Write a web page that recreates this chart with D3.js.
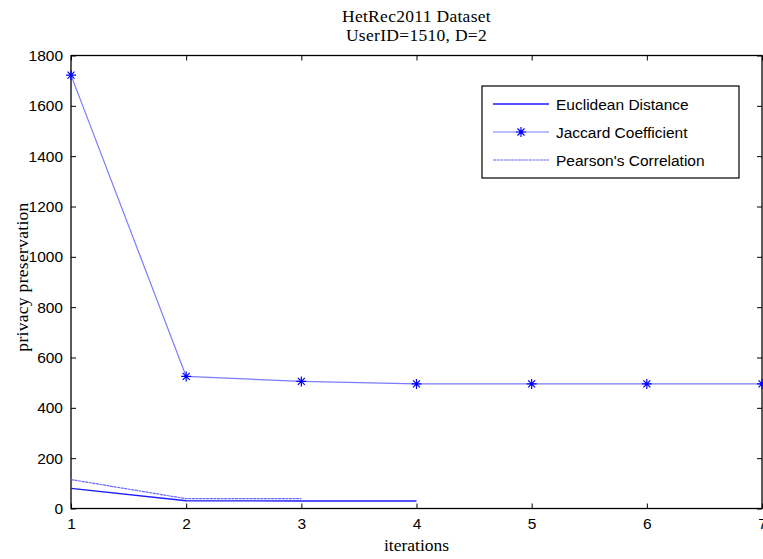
<!DOCTYPE html>
<html>
<head>
<meta charset="utf-8">
<script src="https://cdn.jsdelivr.net/npm/d3@7"></script>
<style>
  body { margin: 0; background: #fff; }
  svg text { fill: #000; }
  .tick text { font-family: "Liberation Sans", Arial, sans-serif; font-size: 15.5px; }
</style>
</head>
<body>
<div id="chart"></div>
<script>
// data
let iterations = [1, 2, 3, 4, 5, 6, 7];
let euclidean = [80, 31, 30, 30];
let jaccard = [1722, 525, 505, 495, 495, 495, 495];
let pearson = [115, 39, 39];
let yTicks = [0, 200, 400, 600, 800, 1000, 1200, 1400, 1600, 1800];
let seriesNames = ["Euclidean Distance", "Jaccard Coefficient", "Pearson's Correlation"];

let width = 763, height = 559;
let margin = { left: 71, right: 1, top: 55.5, bottom: 50.5 };
let serif = "'Liberation Serif', 'Times New Roman', serif";

let svg = d3.select("#chart").append("svg")
  .attr("width", width)
  .attr("height", height);

let x = d3.scaleLinear().domain([1, 7]).range([margin.left, width - margin.right]);
let y = d3.scaleLinear().domain([0, 1800]).range([height - margin.bottom, margin.top]);

// axes, ticks pointing inwards like matlab
let tickLen = 5;
svg.append("g")
  .attr("transform", `translate(0,${y(0)})`)
  .call(d3.axisBottom(x).tickValues(iterations).tickFormat(d3.format("d")).tickSizeInner(-tickLen).tickSizeOuter(0).tickPadding(9))
  .call(g => g.select(".domain").remove());
svg.append("g")
  .attr("transform", `translate(0,${y(1800)})`)
  .call(d3.axisTop(x).tickValues(iterations).tickFormat("").tickSizeInner(-tickLen).tickSizeOuter(0))
  .call(g => g.select(".domain").remove());
svg.append("g")
  .attr("transform", `translate(${x(1)},0)`)
  .call(d3.axisLeft(y).tickValues(yTicks).tickFormat(d3.format("d")).tickSizeInner(-tickLen).tickSizeOuter(0).tickPadding(8))
  .call(g => g.select(".domain").remove());
svg.append("g")
  .attr("transform", `translate(${x(7)},0)`)
  .call(d3.axisRight(y).tickValues(yTicks).tickFormat("").tickSizeInner(-tickLen).tickSizeOuter(0))
  .call(g => g.select(".domain").remove());

svg.selectAll(".tick line").attr("stroke", "#000");

// box
svg.append("rect")
  .attr("x", x(1))
  .attr("y", y(1800))
  .attr("width", x(7) - x(1))
  .attr("height", y(0) - y(1800))
  .attr("fill", "none")
  .attr("stroke", "#000")
  .attr("stroke-width", 1.3);

let line = d3.line().x((d, i) => x(iterations[i])).y(d => y(d));

svg.append("path")
  .datum(euclidean)
  .attr("d", line)
  .attr("fill", "none")
  .attr("stroke", "#1a1aff")
  .attr("stroke-width", 1.4);

svg.append("path")
  .datum(jaccard)
  .attr("d", line)
  .attr("fill", "none")
  .attr("stroke", "#7b7bff")
  .attr("stroke-width", 1.2);

svg.append("path")
  .datum(pearson)
  .attr("d", line)
  .attr("fill", "none")
  .attr("stroke", "#6666ff")
  .attr("stroke-width", 1.2)
  .attr("stroke-dasharray", "3,0.6");

// star markers (matlab '*')
let star = (g, cx, cy) => {
  let r = 5;
  let p = `M${cx - r},${cy}L${cx + r},${cy}M${cx},${cy - r}L${cx},${cy + r}` +
    `M${cx - r * 0.7},${cy - r * 0.7}L${cx + r * 0.7},${cy + r * 0.7}` +
    `M${cx - r * 0.7},${cy + r * 0.7}L${cx + r * 0.7},${cy - r * 0.7}`;
  g.append("path").attr("d", p).attr("stroke", "#0000ff").attr("stroke-width", 1.2).attr("fill", "none");
};
let markers = svg.append("g");
jaccard.forEach((d, i) => star(markers, x(iterations[i]), y(d)));

// title
let cx = (x(1) + x(7)) / 2;
svg.append("text")
  .attr("x", cx).attr("y", 22)
  .attr("text-anchor", "middle")
  .style("font-family", serif)
  .style("font-size", "17.5px")
  .style("letter-spacing", "0.3px")
  .text("HetRec2011 Dataset");
svg.append("text")
  .attr("x", cx).attr("y", 41)
  .attr("text-anchor", "middle")
  .style("font-family", serif)
  .style("font-size", "17.5px")
  .style("letter-spacing", "0.3px")
  .text("UserID=1510, D=2");

// axis labels
svg.append("text")
  .attr("x", cx).attr("y", 551)
  .attr("text-anchor", "middle")
  .style("font-family", serif)
  .style("font-size", "17.5px")
  .text("iterations");
svg.append("text")
  .attr("transform", `translate(28,${(y(0) + y(1800)) / 2 - 5}) rotate(-90)`)
  .attr("text-anchor", "middle")
  .style("font-family", serif)
  .style("font-size", "17.5px")
  .style("letter-spacing", "0.3px")
  .text("privacy preservation");

// legend
let legend = svg.append("g").attr("transform", "translate(482,86)");
legend.append("rect")
  .attr("width", 257)
  .attr("height", 92)
  .attr("fill", "#fff")
  .attr("stroke", "#000")
  .attr("stroke-width", 1.2);

let legStyles = [
  { color: "#1a1aff", w: 1.4, dash: null, marker: false },
  { color: "#7b7bff", w: 1.2, dash: null, marker: true },
  { color: "#6666ff", w: 1.2, dash: "3,0.6", marker: false }
];
seriesNames.forEach((name, i) => {
  let ly = 18 + i * 28;
  let s = legStyles[i];
  legend.append("line")
    .attr("x1", 11).attr("x2", 67)
    .attr("y1", ly).attr("y2", ly)
    .attr("stroke", s.color)
    .attr("stroke-width", s.w)
    .attr("stroke-dasharray", s.dash);
  if (s.marker) star(legend, 39, ly);
  legend.append("text")
    .attr("x", 74).attr("y", ly + 5.5)
    .style("font-family", "'Liberation Sans', Arial, sans-serif")
    .style("font-size", "15.5px")
    .text(name);
});
</script>
</body>
</html>
